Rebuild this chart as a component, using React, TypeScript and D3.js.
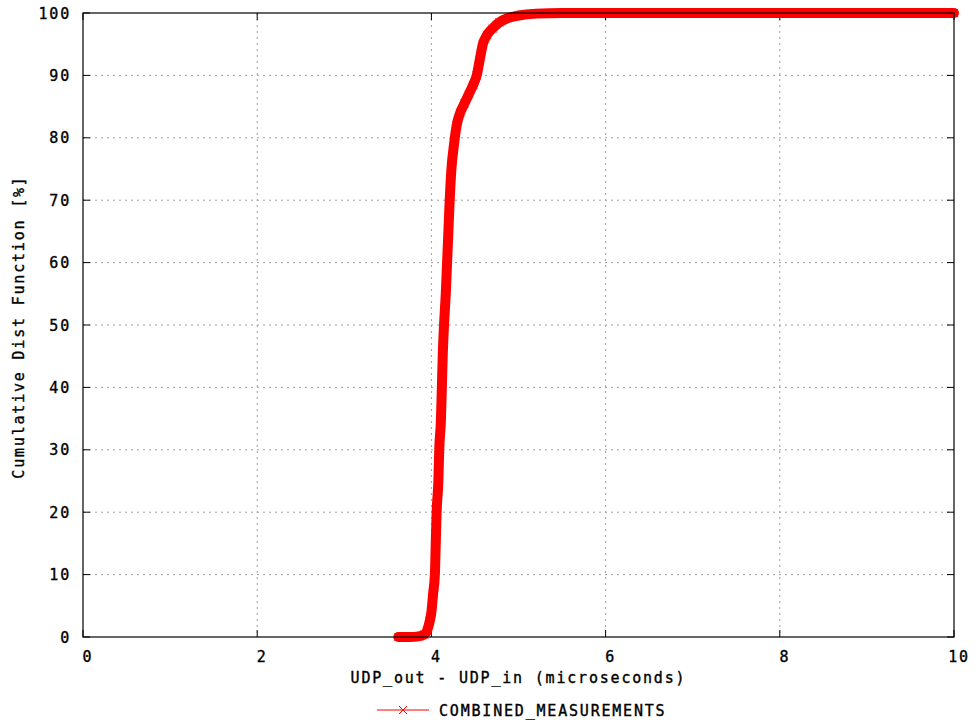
import React from "react";
import * as d3 from "d3";

// CDF samples (x in microseconds, y in %)
const cdfX = [3.62, 3.75, 3.85, 3.92, 3.95, 3.98, 4.0, 4.02, 4.04, 4.05, 4.06, 4.08, 4.09, 4.11, 4.12, 4.13, 4.145, 4.165, 4.18, 4.195, 4.21, 4.23, 4.26, 4.29, 4.33, 4.38, 4.43, 4.48, 4.52, 4.555, 4.59, 4.64, 4.7, 4.78, 4.88, 5.0, 5.2, 5.5, 6.0, 7.0, 8.0, 9.0, 10.0];
const cdfY = [0, 0, 0.1, 0.4, 1, 2.5, 4, 7, 10, 15, 20, 25, 30, 35, 40, 45, 50, 55, 60, 65, 70, 75, 79, 82, 84, 85.5, 87, 88.5, 90, 92.5, 95, 96.5, 97.5, 98.5, 99.2, 99.6, 99.9, 100, 100, 100, 100, 100, 100];

const xTicks = [0, 2, 4, 6, 8, 10];
const yTicks = [0, 10, 20, 30, 40, 50, 60, 70, 80, 90, 100];

const xLabel = "UDP_out - UDP_in (microseconds)";
const yLabel = "Cumulative Dist Function [%]";
const seriesName = "COMBINED_MEASUREMENTS";

const W = 976;
const H = 726;
const L = 83, R = 954, T = 13, B = 637;
const FONT = "'DejaVu Sans Mono', monospace";
const RED = "#ff0000";

export default function App() {
  const x = d3.scaleLinear().domain([0, 10]).range([L, R]);
  const y = d3.scaleLinear().domain([0, 100]).range([B, T]);
  const pts: [number, number][] = cdfX.map((v, i) => [v, cdfY[i]]);
  const line = d3.line<[number, number]>().x(d => x(d[0])).y(d => y(d[1])).curve(d3.curveMonotoneX);
  const tick = 7;
  const cross = (cx: number, cy: number, s: number, key: any) => (
    <path key={key} d={`M${cx - s},${cy - s}L${cx + s},${cy + s}M${cx - s},${cy + s}L${cx + s},${cy - s}`} stroke={RED} strokeWidth={1} fill="none" />
  );
  const textStyle: React.CSSProperties = { fontFamily: FONT, fontSize: 15, letterSpacing: 1.8 };
  const textProps = { fill: "#000", stroke: "#000", strokeWidth: 0.35 };
  return (
    <svg width={W} height={H} style={{ position: "absolute", left: 0, top: 0, background: "#fff" }}>
      <rect x={0} y={0} width={W} height={H} fill="#fff" />
      {/* grid */}
      {xTicks.filter(t => t > 0 && t < 10).map(t => (
        <line key={"gx" + t} x1={x(t)} x2={x(t)} y1={T} y2={B} stroke="#a0a0a0" strokeWidth={1} strokeDasharray="2,4" />
      ))}
      {yTicks.filter(t => t > 0 && t < 100).map(t => (
        <line key={"gy" + t} x1={L} x2={R} y1={y(t)} y2={y(t)} stroke="#a0a0a0" strokeWidth={1} strokeDasharray="2,4" />
      ))}
      {/* ticks */}
      {xTicks.map(t => (
        <g key={"tx" + t}>
          <line x1={x(t)} x2={x(t)} y1={B} y2={B - tick} stroke="#000" />
          <line x1={x(t)} x2={x(t)} y1={T} y2={T + tick} stroke="#000" />
          <text x={x(t) + 5} y={B + 20} textAnchor="middle" dominantBaseline="middle" style={textStyle} {...textProps}>{t}</text>
        </g>
      ))}
      {yTicks.map(t => (
        <g key={"ty" + t}>
          <line x1={L} x2={L + tick} y1={y(t)} y2={y(t)} stroke="#000" />
          <line x1={R} x2={R - tick} y1={y(t)} y2={y(t)} stroke="#000" />
          <text x={L - 12} y={y(t) + 1} textAnchor="end" dominantBaseline="middle" style={textStyle} {...textProps}>{t}</text>
        </g>
      ))}
      {/* series */}
      <path d={line(pts) || ""} fill="none" stroke={RED} strokeWidth={10} strokeLinejoin="round" strokeLinecap="round" />
      <path d={line(pts) || ""} fill="none" stroke={RED} strokeWidth={1} />
      {pts.map((p, i) => cross(x(p[0]), y(p[1]), 4, i))}
      {/* frame */}
      <rect x={L} y={T} width={R - L} height={B - T} fill="none" stroke="#000" strokeWidth={1.2} />
      {/* labels */}
      <text x={(L + R) / 2 + 0} y={678} textAnchor="middle" dominantBaseline="middle" style={textStyle} {...textProps}>{xLabel}</text>
      <text transform={`translate(19,327) rotate(-90)`} textAnchor="middle" dominantBaseline="middle" style={textStyle} {...textProps}>{yLabel}</text>
      {/* legend */}
      <line x1={377} x2={429} y1={710} y2={710} stroke={RED} strokeWidth={1} />
      {cross(403, 710, 4, "leg")}
      <text x={439} y={711} dominantBaseline="middle" style={textStyle} {...textProps}>{seriesName}</text>
    </svg>
  );
}
